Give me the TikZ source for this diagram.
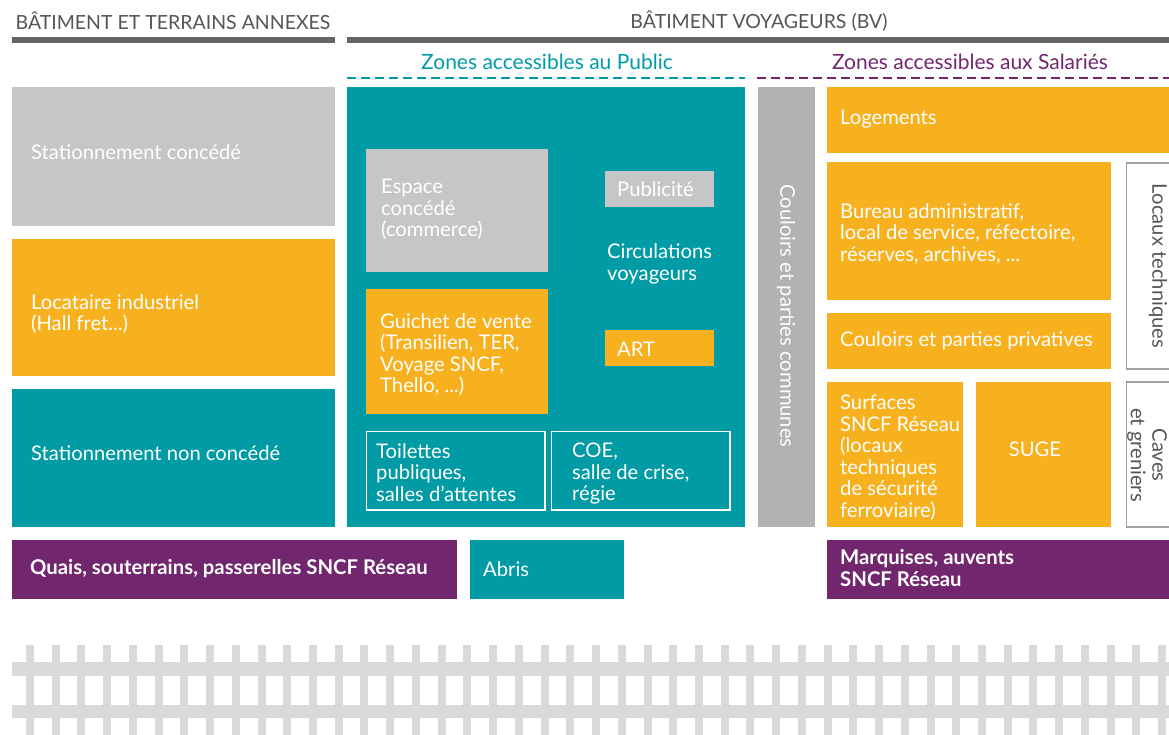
\documentclass[tikz,border=0pt]{standalone}
\usepackage{fontspec}
\setmainfont{Lato}
\definecolor{teal}{RGB}{0,155,165}
\definecolor{orng}{RGB}{247,177,30}
\definecolor{purp}{RGB}{113,38,110}
\definecolor{grayA}{RGB}{198,198,198}
\definecolor{grayB}{RGB}{178,178,178}
\definecolor{darkbar}{RGB}{102,102,102}
\definecolor{hdtext}{RGB}{85,85,85}
\definecolor{track}{RGB}{217,217,217}
\definecolor{outl}{RGB}{160,160,160}
\tikzset{
  txt/.style={text=white, font=\fontsize{20.2}{21.5}\selectfont, align=left, anchor=west, inner sep=0pt},
  btxt/.style={txt, font=\fontsize{20.3}{21.5}\selectfont\bfseries},
  hd/.style={text=hdtext, font=\fontsize{19.5}{22}\selectfont, inner sep=0pt},
  zone/.style={font=\fontsize{21}{22}\selectfont, inner sep=0pt},
  bar/.style={darkbar, line width=6pt},
  dsh/.style={line width=2.6pt, dash pattern=on 9pt off 5pt}
}
\begin{document}
\begin{tikzpicture}[x=1pt,y=-1pt]
\useasboundingbox (0,0) rectangle (1169,734);
\clip (0,0) rectangle (1169,734);
% headers
\node[hd] (h1) at (173,21) {BÂTIMENT ET TERRAINS ANNEXES};
\node[hd] (h2) at (759,21) {BÂTIMENT VOYAGEURS (BV)};
\draw[bar] (12,40) -- (335,40);
\draw[bar] (347,40) -- (1175,40);
\node[zone, text=teal] (z1) at (547,62) {Zones accessibles au Public};
\node[zone, text=purp] (z2) at (970,62) {Zones accessibles aux Salariés};
\draw[dsh, teal] (347,78) -- (745,78);
\draw[dsh, purp] (757,78) -- (1175,78);
% left column
\fill[grayA] (12,87) rectangle (335,226);
\node[txt] (sc) at (31,152) {Stationnement concédé};
\fill[orng] (12,239) rectangle (335,376);
\node[txt] (li) at (31,314) {Locataire industriel\\(Hall fret...)};
\fill[teal] (12,389) rectangle (335,527);
\node[txt] (snc) at (31,453) {Stationnement non concédé};
% public zone
\fill[teal] (347,87) rectangle (745,527);
\fill[grayA] (366,149) rectangle (548,272);
\node[txt, anchor=north west] (ec) at (381,179) {Espace\\concédé\\(commerce)};
\fill[orng] (366,289) rectangle (548,414);
\node[txt, anchor=north west] (gv) at (380,313) {Guichet de vente\\(Transilien, TER,\\Voyage SNCF,\\Thello, ...)};
\fill[grayA] (605,171) rectangle (714,207);
\node[txt] (pub) at (617,189) {Publicité};
\node[txt] (cv) at (607,264) {Circulations\\voyageurs};
\fill[orng] (605,330) rectangle (714,366);
\node[txt] (art) at (617,349) {ART};
\draw[white, line width=1.4pt] (366.5,431.5) rectangle (545,510);
\node[txt, anchor=north west] (toil) at (376,443) {Toilettes\\publiques,\\salles d’attentes};
\draw[white, line width=1.4pt] (551.5,431.5) rectangle (730,510);
\node[txt, anchor=north west] (coe) at (572,443) {COE,\\salle de crise,\\régie};
% common corridor
\fill[grayB] (758,87) rectangle (815,527);
\node[txt, anchor=center, rotate=-90] (cpc) at (786,316) {Couloirs et parties communes};
% staff zone
\fill[orng] (827,87) rectangle (1195,153);
\node[txt] (log) at (840,119) {Logements};
\fill[orng] (827,162) rectangle (1111,300);
\node[txt, anchor=north west] (ba) at (840,203) {Bureau administratif,\\local de service, réfectoire,\\réserves, archives, ...};
\fill[orng] (827,313) rectangle (1111,369);
\node[txt] (cpp) at (840,341) {Couloirs et parties privatives};
\fill[orng] (827,382) rectangle (963,527);
\node[txt, anchor=north west] (sr) at (840,395) {Surfaces\\SNCF Réseau\\(locaux\\techniques\\de sécurité\\ferroviaire)};
\fill[orng] (976,382) rectangle (1111,527);
\node[txt, anchor=center] (suge) at (1035,449) {SUGE};
\draw[outl, line width=1.4pt] (1126.5,163) rectangle (1195,369);
\node[txt, text=hdtext, anchor=center, rotate=-90] (lt) at (1158,266) {Locaux techniques};
\draw[outl, line width=1.4pt] (1126.5,382) rectangle (1195,527);
\node[txt, text=hdtext, anchor=center, rotate=-90, align=center] (cg) at (1147,455) {Caves\\et greniers};
% platforms
\fill[purp] (12,540) rectangle (457,599);
\node[btxt] (quais) at (30,569) {Quais, souterrains, passerelles SNCF Réseau};
\fill[teal] (470,540) rectangle (624,599);
\node[txt] (abris) at (483,569) {Abris};
\fill[purp] (827,540) rectangle (1195,599);
\node[btxt] (marq) at (840,568) {Marquises, auvents\\SNCF Réseau};
% track
\fill[track] (12,662) rectangle (1175,676);
\fill[track] (12,705) rectangle (1175,718);
\foreach \i in {0,...,44}
  \fill[track] ({26+\i*25.73},645) rectangle ++(8,95);
\end{tikzpicture}
\end{document}
